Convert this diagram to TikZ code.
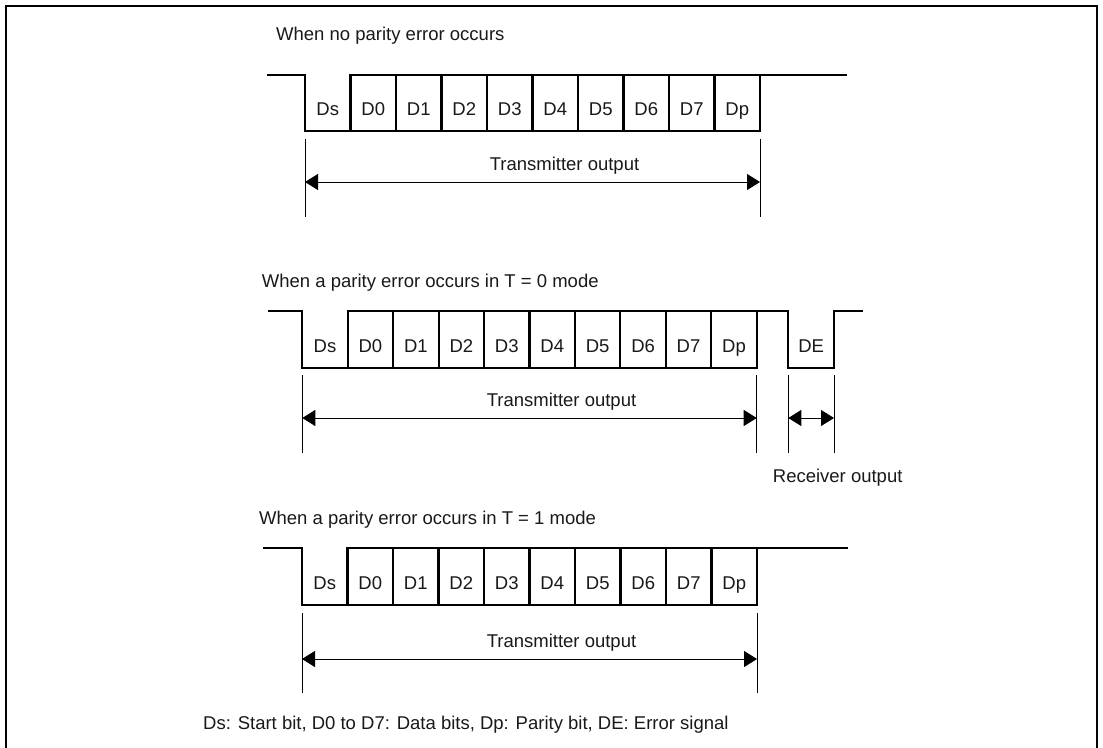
\documentclass[tikz,border=0pt]{standalone}
\usepackage{fontspec}
\setmainfont{Liberation Sans}
\usetikzlibrary{arrows.meta}

\begin{document}
\begin{tikzpicture}[
    x=1pt, y=-1pt,
    font=\fontsize{18.5}{22}\selectfont,
    border/.style={line width=2.2pt},
    wave/.style={line width=2.2pt},
    guide/.style={line width=0.9pt},
    dimarrow/.style={{Triangle[length=13pt,width=16pt]}-{Triangle[length=13pt,width=16pt]}, line width=0.9pt},
    title/.style={anchor=base west, inner sep=0pt, text=black!90},
    bit/.style={anchor=base, inner sep=0pt, text=black!90},
    outlbl/.style={anchor=base, inner sep=0pt, text=black!90},
  ]
  \useasboundingbox (0,0) rectangle (1103,747);
  \draw[border] (6,760) -- (6,6) -- (1097,6) -- (1097,760);

  \node[title] (title1) at (276,40) {When no parity error occurs};
  \draw[wave] (266.7,75) -| (305,131) -- (760,131) -- (760,75);
  \draw[wave] (350.5,131) |- (847,75);
  \foreach \k in {2,...,9} \draw[wave] ({305+\k*45.5},75) -- ++(0,56);
  \foreach \t [count=\k from 0] in {Ds,D0,D1,D2,D3,D4,D5,D6,D7,Dp}
    \node[bit] (a\t) at ({305+(\k+0.5)*45.5},115) {\t};
  \coordinate (a-l) at (305,139);
  \coordinate (a-r) at (760,139);
  \coordinate (a-s) at (305,182);
  \coordinate (a-e) at (760,182);
  \draw[guide] (a-l) -- ++(0,78);
  \draw[guide] (a-r) -- ++(0,78);
  \draw[dimarrow] (a-s) -- node[outlbl, yshift=12pt, xshift=32pt] (tx1) {Transmitter output} (a-e);

  \node[title] (title2) at (261.7,287) {When a parity error occurs in T = 0 mode};
  \draw[wave] (268,311) -| (302.3,368) -- (756.7,368) -- (756.7,311);
  \draw[wave] (347.7,368) |- (788.3,311) |- (834,368) |- (863.3,311);
  \foreach \k in {2,...,9} \draw[wave] ({302.3+\k*45.44},311) -- ++(0,57);
  \foreach \t [count=\k from 0] in {Ds,D0,D1,D2,D3,D4,D5,D6,D7,Dp}
    \node[bit] (b\t) at ({302.3+(\k+0.5)*45.44},352) {\t};
  \node[bit] (bDE) at (811.2,352) {DE};
  \coordinate (b-l) at (302.3,375);
  \coordinate (b-r) at (756.7,375);
  \coordinate (b-dl) at (788.3,375);
  \coordinate (b-dr) at (834,375);
  \coordinate (b-s) at (302.3,418);
  \coordinate (b-e) at (756.7,418);
  \coordinate (b-ds) at (788.3,418);
  \coordinate (b-de) at (834,418);
  \draw[guide] (b-l) -- ++(0,78);
  \draw[guide] (b-r) -- ++(0,78);
  \draw[guide] (b-dl) -- ++(0,78);
  \draw[guide] (b-dr) -- ++(0,78);
  \draw[dimarrow] (b-s) -- node[outlbl, yshift=12pt, xshift=32pt] (tx2) {Transmitter output} (b-e);
  \draw[dimarrow] (b-ds) -- (b-de);
  \node[outlbl] (rx2) at (837.7,482) {Receiver output};

  \node[title] (title3) at (259,524) {When a parity error occurs in T = 1 mode};
  \draw[wave] (263,548) -| (302,605) -- (757,605) -- (757,548);
  \draw[wave] (347.5,605) |- (848,548);
  \foreach \k in {2,...,9} \draw[wave] ({302+\k*45.5},548) -- ++(0,57);
  \foreach \t [count=\k from 0] in {Ds,D0,D1,D2,D3,D4,D5,D6,D7,Dp}
    \node[bit] (c\t) at ({302+(\k+0.5)*45.5},589) {\t};
  \coordinate (c-l) at (302,613);
  \coordinate (c-r) at (757,613);
  \coordinate (c-s) at (302,659);
  \coordinate (c-e) at (757,659);
  \draw[guide] (c-l) -- ++(0,80);
  \draw[guide] (c-r) -- ++(0,80);
  \draw[dimarrow] (c-s) -- node[outlbl, yshift=12pt, xshift=32pt] (tx3) {Transmitter output} (c-e);

  \node[title] (legend) at (203,729) {Ds: Start bit, D0 to D7: Data bits, Dp: Parity bit, DE: Error signal};
\end{tikzpicture}
\end{document}
